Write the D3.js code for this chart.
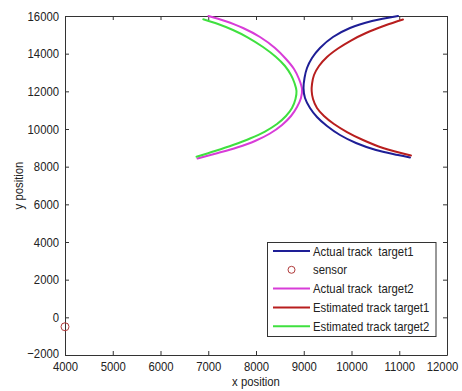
<!DOCTYPE html>
<html>
<head>
<meta charset="utf-8">
<script src="https://cdn.jsdelivr.net/npm/d3@7/dist/d3.min.js"></script>
<style>
  html, body { margin: 0; padding: 0; background: #fff; }
  svg { display: block; }
  text { font-family: "Liberation Sans", Arial, sans-serif; fill: #222; white-space: pre; }
</style>
</head>
<body>
<svg id="chart" width="462" height="391"></svg>
<script>
// Track coordinates: [x position, y position]
const actualTarget1 = [
  [10974, 16000], [10429, 15735], [9968, 15363], [9612, 14885], [9340, 14301],
  [9173, 13770], [9068, 13239], [9016, 12708], [8995, 12177], [9026, 11646],
  [9131, 11115], [9277, 10637], [9487, 10159], [9759, 9681], [10094, 9256],
  [10513, 8885], [10974, 8619], [11225, 8487]
];
const actualTarget2 = [
  [7005, 16000], [7351, 15735], [7728, 15363], [8084, 14885], [8398, 14301],
  [8628, 13717], [8796, 13186], [8901, 12655], [8963, 12124], [8942, 11646],
  [8859, 11168], [8733, 10690], [8545, 10212], [8293, 9761], [7979, 9363],
  [7602, 9018], [7204, 8725], [6775, 8433]
];
const estimatedTarget1 = [
  [11078, 15814], [10701, 15496], [10304, 15097], [9989, 14699], [9717, 14274],
  [9487, 13823], [9319, 13345], [9215, 12867], [9173, 12389], [9166, 12018],
  [9194, 11593], [9277, 11115], [9424, 10690], [9633, 10265], [9906, 9840],
  [10241, 9416], [10660, 8991], [11246, 8593]
];
const estimatedTarget2 = [
  [6896, 15825], [7204, 15575], [7518, 15257], [7832, 14858], [8147, 14354],
  [8419, 13823], [8607, 13345], [8733, 12867], [8806, 12442], [8848, 12018],
  [8827, 11593], [8754, 11115], [8628, 10690], [8440, 10265], [8188, 9867],
  [7874, 9495], [7518, 9150], [7141, 8832], [6754, 8529]
];
const sensor = [[4000, -500]];

const xTicks = [4000, 5000, 6000, 7000, 8000, 9000, 10000, 11000, 12000];
const yTicks = [-2000, 0, 2000, 4000, 6000, 8000, 10000, 12000, 14000, 16000];

const seriesNames = ["Actual track  target1", "sensor", "Actual track  target2", "Estimated track target1", "Estimated track target2"];
const seriesColors = ["#1e1e96", "#b03a3a", "#d83cd8", "#b81e1e", "#3fe03f"];

const svg = d3.select("#chart");
const plot = { left: 65, right: 447, top: 16, bottom: 355 };
const fontSize = 13;

const x = d3.scaleLinear().domain([4000, 12000]).range([plot.left, plot.right]);
const y = d3.scaleLinear().domain([-2000, 16000]).range([plot.bottom, plot.top]);

// Axes with inward ticks on all four sides
const tickLen = 4;
const axisB = svg.append("g").attr("transform", `translate(0,${plot.bottom})`)
  .call(d3.axisBottom(x).tickValues(xTicks).tickSizeInner(-tickLen).tickSizeOuter(0).tickPadding(7).tickFormat(d3.format("d")));
const axisT = svg.append("g").attr("transform", `translate(0,${plot.top})`)
  .call(d3.axisTop(x).tickValues(xTicks).tickSizeInner(-tickLen).tickSizeOuter(0).tickFormat(""));
const axisL = svg.append("g").attr("transform", `translate(${plot.left},0)`)
  .call(d3.axisLeft(y).tickValues(yTicks).tickSizeInner(-tickLen).tickSizeOuter(0).tickPadding(6).tickFormat(d3.format("d")));
const axisR = svg.append("g").attr("transform", `translate(${plot.right},0)`)
  .call(d3.axisRight(y).tickValues(yTicks).tickSizeInner(-tickLen).tickSizeOuter(0).tickFormat(""));

[axisB, axisT, axisL, axisR].forEach(g => {
  g.select(".domain").attr("stroke", "#333").attr("stroke-width", 1);
  g.selectAll(".tick line").attr("stroke", "#333");
  g.selectAll("text").attr("font-size", fontSize).attr("fill", "#222")
    .style("font-family", '"Liberation Sans", Arial, sans-serif');
});
// keep the last x label inside the canvas
axisB.selectAll(".tick").filter(d => d === 12000).select("text").attr("dx", -5);
// lowest y label sits just above the x labels
axisL.selectAll(".tick").filter(d => d === -2000).select("text").attr("dy", "0.2em");

// Axis titles
svg.append("text").attr("x", (plot.left + plot.right) / 2).attr("y", 386)
  .attr("text-anchor", "middle").attr("font-size", fontSize).text("x position");
svg.append("text").attr("transform", `translate(23,${(plot.top + plot.bottom) / 2}) rotate(-90)`)
  .attr("text-anchor", "middle").attr("font-size", fontSize).text("y position");

// Tracks
const line = d3.line().x(d => x(d[0])).y(d => y(d[1])).curve(d3.curveCatmullRom.alpha(0.5));
const tracks = [
  { data: actualTarget2, color: seriesColors[2] },
  { data: estimatedTarget2, color: seriesColors[4] },
  { data: actualTarget1, color: seriesColors[0] },
  { data: estimatedTarget1, color: seriesColors[3] }
];
svg.append("g").selectAll("path").data(tracks).join("path")
  .attr("d", d => line(d.data))
  .attr("fill", "none")
  .attr("stroke", d => d.color)
  .attr("stroke-width", 2)
  .attr("stroke-linecap", "round");

// Sensor marker
svg.append("g").selectAll("circle").data(sensor).join("circle")
  .attr("cx", d => x(d[0])).attr("cy", d => y(d[1])).attr("r", 4)
  .attr("fill", "none").attr("stroke", seriesColors[1]).attr("stroke-width", 1);

// Legend
const legend = svg.append("g");
legend.append("rect").attr("x", 267.5).attr("y", 242.5).attr("width", 168.5).attr("height", 94)
  .attr("fill", "#fff").attr("stroke", "#333").attr("stroke-width", 1);
const rowY = i => 251 + i * 18.8;
seriesNames.forEach((name, i) => {
  if (i === 1) {
    legend.append("circle").attr("cx", 291.5).attr("cy", rowY(i)).attr("r", 3.5)
      .attr("fill", "none").attr("stroke", seriesColors[i]).attr("stroke-width", 1);
  } else {
    legend.append("line").attr("x1", 273).attr("x2", 310).attr("y1", rowY(i)).attr("y2", rowY(i))
      .attr("stroke", seriesColors[i]).attr("stroke-width", 2);
  }
  legend.append("text").attr("x", 313).attr("y", rowY(i)).attr("dy", "0.35em")
    .attr("font-size", fontSize).text(name);
});

// Condensed lettering: squeeze each label horizontally
svg.selectAll("text").each(function () {
  const t = this.textContent;
  if (!t) return;
  const w = this.getComputedTextLength();
  d3.select(this).attr("textLength", w * 0.87).attr("lengthAdjust", "spacingAndGlyphs");
});
</script>
</body>
</html>
